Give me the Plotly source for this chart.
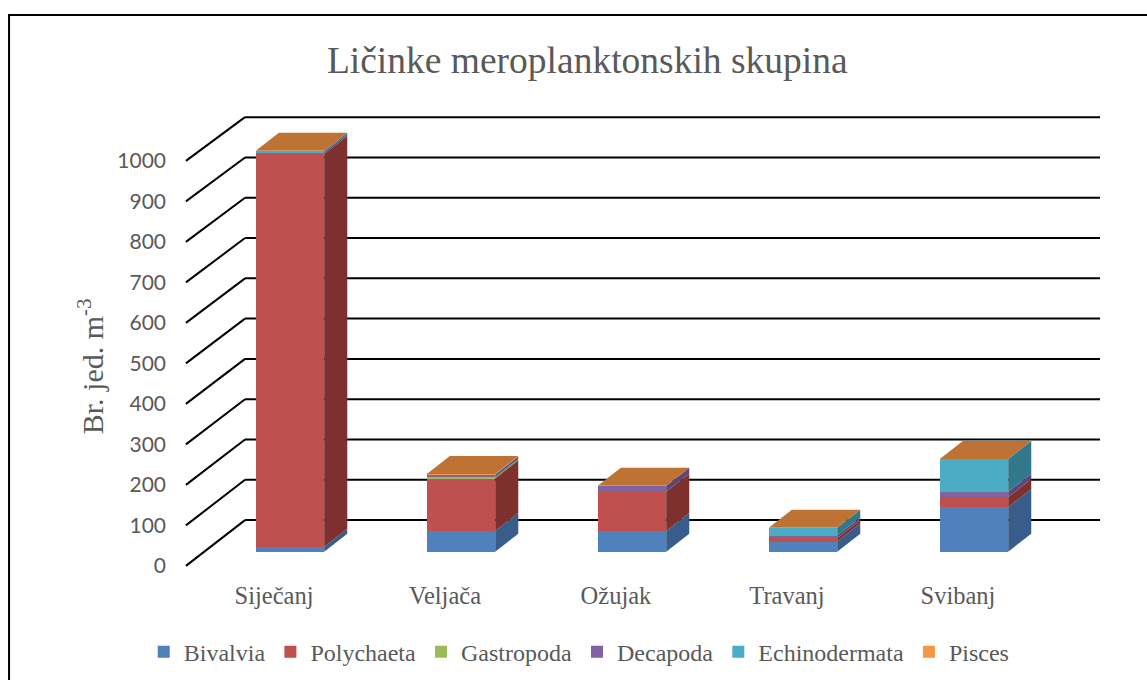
"""
Pseudo-3D stacked bar chart: Ličinke meroplanktonskih skupina.
"""
import plotly.graph_objects as go

# ---------------------------------------------------------------------------
# Data (Br. jed. m-3)
# ---------------------------------------------------------------------------
months = ["Siječanj", "Veljača", "Ožujak", "Travanj", "Svibanj"]
bivalvia = [12, 51, 51, 25, 110]
polychaeta = [970, 130, 97, 8, 25]
gastropoda = [0, 4, 0, 0, 0]
decapoda = [4, 5, 15, 7, 13]
echinodermata = [4, 1, 0, 19, 81]
pisces = [0, 1, 0, 0, 0]
y_ticks = [0, 100, 200, 300, 400, 500, 600, 700, 800, 900, 1000]

series = [
    ("Bivalvia", bivalvia, "#4F81BD", "#395D8A"),
    ("Polychaeta", polychaeta, "#C0504D", "#7D302E"),
    ("Gastropoda", gastropoda, "#9BBB59", "#718A40"),
    ("Decapoda", decapoda, "#8064A2", "#5C4777"),
    ("Echinodermata", echinodermata, "#4BACC6", "#31788C"),
    ("Pisces", pisces, "#F79646", "#B66C2F"),
]
TOP_COLOR = "#BE7334"

# geometry of the fake depth (axis units)
BAR_W = 0.4
DEPTH_X = 0.135
DEPTH_Y = 44.4
BACK_X = 0.0656          # paper offset of the back wall
BACK_SHIFT = 78          # back wall zero in bar-plane units
FRONT_SHIFT = -35        # front (label) plane zero in bar-plane units

SERIF = "Liberation Serif, Times New Roman, serif"
GREY = "#595959"

xs = list(range(len(months)))
fig = go.Figure()
shapes = []

# back wall gridlines and the diagonal floor/wall connectors
for v in y_ticks:
    back = BACK_SHIFT + v * 0.995
    shapes.append(dict(type="line", xref="paper", yref="y", x0=BACK_X, x1=1.0,
                       y0=back, y1=back, line=dict(color="black", width=2), layer="below"))
    shapes.append(dict(type="line", xref="paper", yref="y", x0=0.001, x1=BACK_X,
                       y0=v + FRONT_SHIFT, y1=back, line=dict(color="black", width=2),
                       layer="below"))

base = [0] * len(months)
for name, vals, color, side in series:
    fig.add_trace(go.Bar(
        x=xs, y=vals, base=base[:], name=name, width=BAR_W,
        marker=dict(color=color, line=dict(width=0)),
        hoverinfo="name+y",
    ))
    # right-hand side faces
    for i, v in enumerate(vals):
        if v <= 0:
            continue
        b, t = base[i], base[i] + v
        x0 = i + BAR_W / 2
        x1 = x0 + DEPTH_X
        shapes.append(dict(
            type="path", xref="x", yref="y", layer="above",
            path=f"M {x0},{b} L {x1},{b + DEPTH_Y} L {x1},{t + DEPTH_Y} L {x0},{t} Z",
            fillcolor=side, line=dict(width=0),
        ))
    base = [b + v for b, v in zip(base, vals)]

# top faces
for i, total in enumerate(base):
    xl = i - BAR_W / 2
    xr = i + BAR_W / 2
    shapes.append(dict(
        type="path", xref="x", yref="y", layer="above",
        path=(f"M {xl},{total} L {xl + DEPTH_X},{total + DEPTH_Y} "
              f"L {xr + DEPTH_X},{total + DEPTH_Y} L {xr},{total} Z"),
        fillcolor=TOP_COLOR, line=dict(width=0),
    ))

# outer chart frame
shapes.append(dict(type="rect", xref="paper", yref="paper", x0=-0.1923, x1=1.06,
                   y0=-0.26, y1=1.2043, line=dict(color="black", width=2),
                   fillcolor="rgba(0,0,0,0)", layer="below"))

fig.update_layout(
    width=1147,
    height=680,
    barmode="overlay",
    bargap=0,
    plot_bgcolor="white",
    paper_bgcolor="white",
    margin=dict(l=185, r=47, t=110, b=105),
    shapes=shapes,
    title=dict(
        text="Ličinke meroplanktonskih skupina",
        x=0.512, xref="container", xanchor="center",
        y=0.912, yref="container", yanchor="middle",
        font=dict(family=SERIF, size=37.5, color=GREY),
    ),
    xaxis=dict(
        range=[-0.614, 4.737],
        tickvals=xs, ticktext=months,
        showgrid=False, zeroline=False, showline=False, ticks="",
        ticklabelshift=-16, ticklabelstandoff=3,
        tickfont=dict(family=SERIF, size=24.5, color=GREY),
    ),
    yaxis=dict(
        range=[-57.5, 1090.6],
        tickvals=y_ticks,
        showgrid=False, zeroline=False, showline=False, ticks="",
        ticklabelshift=14, ticklabelstandoff=18,
        tickfont=dict(family="Lato, sans-serif", size=21, color=GREY),
    ),
    annotations=[dict(
        text="Br. jed. m<sup>-3</sup>", textangle=-90,
        xref="paper", yref="paper", x=-0.1027, y=0.449,
        xanchor="center", yanchor="middle", showarrow=False,
        font=dict(family=SERIF, size=30, color=GREY),
    )],
    legend=dict(
        orientation="h", traceorder="normal",
        xref="container", x=0.505, xanchor="center",
        yref="container", y=0.041, yanchor="middle",
        font=dict(family=SERIF, size=24, color=GREY),
        itemwidth=30,
    ),
    showlegend=True,
)

# drop the page's default body margin so the figure sits at the window origin
fig.write_html("out.html", config={"displayModeBar": False},
               post_script="document.body.style.margin='0';")
